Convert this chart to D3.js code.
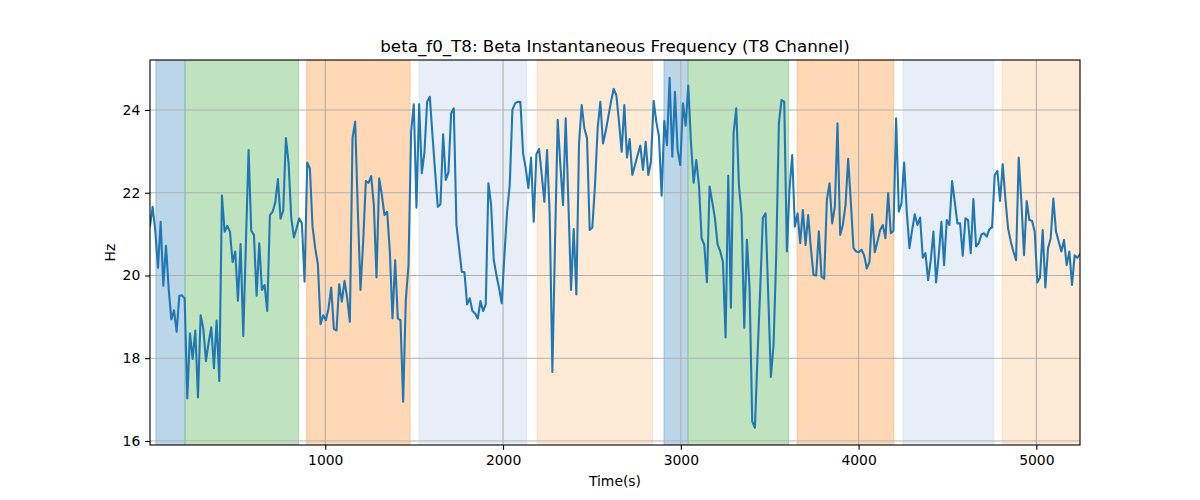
<!DOCTYPE html>
<html><head><meta charset="utf-8">
<script src="https://cdn.jsdelivr.net/npm/d3@7"></script>
<style>
html,body{margin:0;padding:0;background:#fff;}
svg text{font-family:"DejaVu Sans",sans-serif;fill:#000;}
</style></head>
<body><svg id="c" width="1200" height="500"></svg>
<script>
// sampling grid (s)
const tStart = 14;
const tStep = 14.99;
// Beta instantaneous frequency (Hz), T8 channel
const values = [
21.2,21.66,21.06,20.19,21.30,19.75,20.72,19.69,18.94,19.16,
18.64,19.51,19.52,19.45,17.03,18.60,17.98,18.67,17.05,19.04,
18.72,17.93,18.38,18.75,17.76,18.91,17.45,21.93,21.06,21.20,
21.06,20.32,20.58,19.39,20.76,18.54,20.8,23.03,21.08,20.98,
19.51,20.78,19.65,19.77,19.14,21.46,21.54,21.76,22.33,21.37,
21.57,23.32,22.73,21.40,20.92,21.14,21.38,21.26,19.85,22.73,
22.59,
21.18,20.66,20.27,18.82,19.04,18.92,19.21,19.71,18.71,18.67,
19.79,19.37,19.87,19.45,18.88,23.33,23.72,21.54,19.65,20.82,
22.28,22.24,22.40,21.70,19.95,22.35,21.95,21.46,21.54,20.58,
18.96,20.37,18.96,18.92,16.95,19.41,20.25,23.48,24.14,21.64,
24.14,22.47,22.99,24.20,24.32,23.40,22.51,21.66,21.72,23.41,
22.31,22.49,23.92,24.04,21.22,20.66,20.09,20.08,19.30,19.45,
19.14,19.08,18.96,19.38,19.14,19.30,22.23,21.71,20.38,20.01,
19.69,19.33,20.49,21.54,22.19,24.00,24.16,24.20,24.19,22.95,
22.59,22.11,22.85,21.30,22.93,23.06,22.43,21.78,23.03,21.46,
17.67,20.82,23.76,22.67,21.70,23.80,21.78,19.65,21.12,19.54,
23.19,24.12,23.56,23.32,21.10,21.16,22.19,23.57,24.20,23.19,
23.48,23.84,24.20,24.51,24.36,23.72,22.99,24.12,22.85,23.30,
22.43,22.67,22.91,23.14,22.55,23.23,22.43,22.75,24.22,23.72,
23.36,21.93,23.73,23.15,24.78,22.87,24.44,23.03,22.67,24.16,
23.62,24.59,23.23,22.24,22.79,22.19,20.90,20.74,19.84,22.15,
21.78,21.38,20.75,20.58,20.33,18.50,22.41,19.22,23.44,24.04,
22.19,21.46,18.74,20.86,19.69,16.47,16.32,18.08,19.69,21.40,
21.50,19.53,17.55,18.32,20.49,23.68,24.24,24.20,20.58,22.1,
22.91,21.18,21.50,20.78,21.58,20.74,21.46,20.66,20.01,20.00,
21.07,19.97,19.92,21.82,22.23,21.26,21.66,23.68,20.98,21.22,
21.70,22.82,21.78,20.66,20.58,20.56,20.62,20.49,20.17,20.33,
21.48,20.56,20.82,21.10,21.22,20.90,21.99,21.02,21.08,23.80,
21.54,21.74,22.73,21.54,20.66,21.10,21.48,21.22,21.40,20.43,
20.54,19.89,20.37,21.06,19.83,20.49,21.30,20.25,21.34,21.22,
22.28,21.78,21.26,21.26,20.48,21.38,21.34,20.54,21.85,20.70,
20.78,20.99,21.02,20.94,21.12,21.16,22.43,22.53,21.80,22.69,
21.86,21.14,20.83,20.58,20.37,22.85,21.78,20.49,21.80,21.34,
21.32,21.06,19.83,19.95,21.10,19.71,20.66,20.90,21.86,21.06,
20.82,20.58,20.86,20.25,20.58,19.77,20.49,20.43,20.51
];
// shaded segments
const bandStart = [47, 212, 895, 1527, 2191, 2905, 3042, 3654, 4250, 4807];
const bandEnd   = [210, 850, 1477, 2133, 2842, 3039, 3607, 4198, 4760, 5300];
const bandKind  = ["A","B","C","D","E","A","B","C","D","E"];
const bandColor = {A:"#1f77b4", B:"#2ca02c", C:"#ff7f0e", D:"#aec7e8", E:"#ffbb78"};
const xTicks = [1000, 2000, 3000, 4000, 5000];
const yTicks = [16, 18, 20, 22, 24];
const title = "beta_f0_T8: Beta Instantaneous Frequency (T8 Channel)";

const times = values.map((v, i) => tStart + i * tStep);
const data = values.map((v, i) => ({t: times[i], v}));

const L = 150, R = 1080, T = 60, B = 445;
const svg = d3.select("#c");
const x = d3.scaleLinear().domain([times[0], times[times.length - 1]]).range([L, R]);
const y = d3.scaleLinear().domain([15.903, 25.208]).range([B, T]);

svg.append("defs").append("clipPath").attr("id", "clip")
  .append("rect").attr("x", L).attr("y", T).attr("width", R - L).attr("height", B - T);

const plot = svg.append("g").attr("clip-path", "url(#clip)");

// bands
plot.selectAll("rect.band").data(bandStart.map((s, i) => ({s, e: bandEnd[i], k: bandKind[i]})))
  .enter().append("rect").attr("class", "band")
  .attr("x", d => x(d.s)).attr("width", d => x(d.e) - x(d.s))
  .attr("y", T).attr("height", B - T)
  .attr("fill", d => bandColor[d.k]).attr("fill-opacity", 0.3)
  .attr("stroke", d => bandColor[d.k]).attr("stroke-opacity", 0.3).attr("stroke-width", 1);

// grid
const fs = 13.9, tl = 4.86;
plot.selectAll("line.gx").data(xTicks).enter().append("line")
  .attr("x1", d => x(d)).attr("x2", d => x(d)).attr("y1", T).attr("y2", B)
  .attr("stroke", "#b0b0b0").attr("stroke-width", 1.1);
plot.selectAll("line.gy").data(yTicks).enter().append("line")
  .attr("y1", d => y(d)).attr("y2", d => y(d)).attr("x1", L).attr("x2", R)
  .attr("stroke", "#b0b0b0").attr("stroke-width", 1.1);

// line
plot.append("path").datum(data)
  .attr("fill", "none").attr("stroke", "#1f77b4").attr("stroke-width", 2.08)
  .attr("stroke-linejoin", "round").attr("stroke-linecap", "square")
  .attr("d", d3.line().x(d => x(d.t)).y(d => y(d.v)));

// axes
const xa = svg.append("g").attr("transform", `translate(0,${B})`)
  .call(d3.axisBottom(x).tickValues(xTicks).tickFormat(d3.format("d")).tickSize(tl).tickPadding(4.86));
const ya = svg.append("g").attr("transform", `translate(${L},0)`)
  .call(d3.axisLeft(y).tickValues(yTicks).tickFormat(d3.format("d")).tickSize(tl).tickPadding(4.86));
[xa, ya].forEach(g => {
  g.select(".domain").remove();
  g.selectAll(".tick line").attr("stroke", "#000").attr("stroke-width", 1.1);
  g.selectAll(".tick text").attr("font-size", fs).attr("font-family", "DejaVu Sans").attr("fill", "#000");
});

// spines
svg.append("rect").attr("x", L).attr("y", T).attr("width", R - L).attr("height", B - T)
  .attr("fill", "none").attr("stroke", "#000").attr("stroke-width", 1.1);

// titles
svg.append("text").attr("x", (L + R) / 2).attr("y", 51.7).attr("text-anchor", "middle")
  .attr("font-size", 16.7).text(title);
svg.append("text").attr("x", (L + R) / 2).attr("y", 486).attr("text-anchor", "middle")
  .attr("font-size", fs).text("Time(s)");
svg.append("text").attr("transform", `translate(115,${(T + B) / 2}) rotate(-90)`)
  .attr("text-anchor", "middle").attr("font-size", fs).text("Hz");
</script></body></html>
